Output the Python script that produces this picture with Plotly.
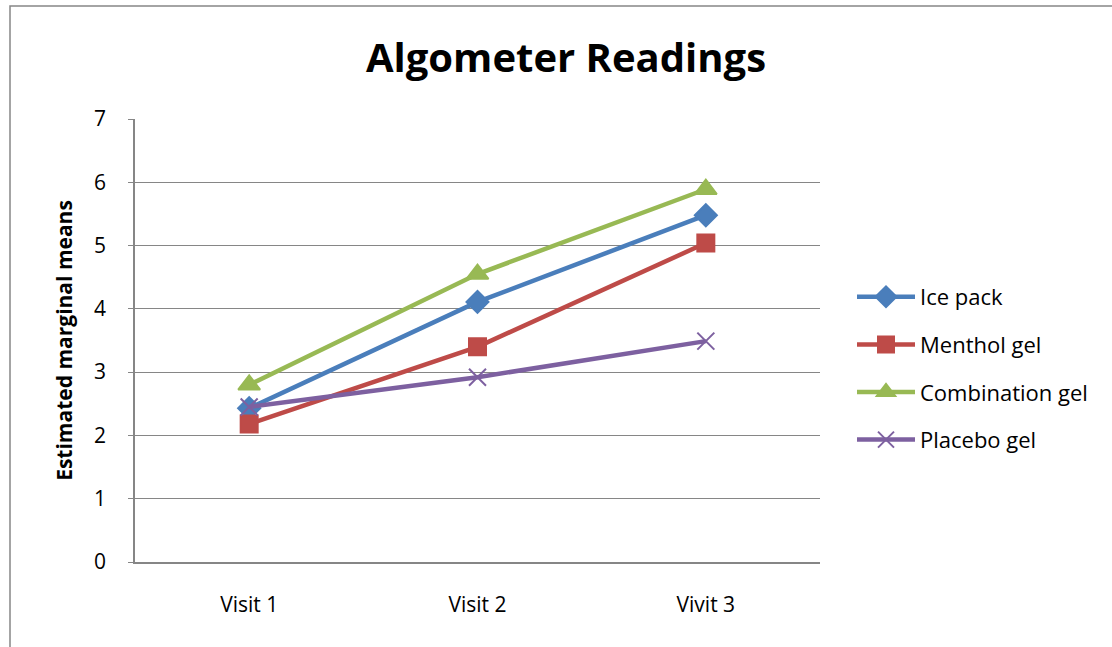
import plotly.graph_objects as go

visits = ["Visit 1", "Visit 2", "Vivit 3"]
ice_pack = [2.43, 4.11, 5.48]
menthol_gel = [2.18, 3.40, 5.04]
combination_gel = [2.80, 4.55, 5.89]
placebo_gel = [2.45, 2.92, 3.49]

W, H = 1112, 647
L, R, T, B = 135, 292, 119, 85
pw, ph = W - L - R, H - T - B

series = [
    ("Ice pack", ice_pack, "#4A7EBB", "diamond", 17),
    ("Menthol gel", menthol_gel, "#BE4B48", "square", 17),
    ("Combination gel", combination_gel, "#98B954", "triangle-up", 19),
    ("Placebo gel", placebo_gel, "#7D60A0", "x-thin-open", 17),
]

fig = go.Figure()
for i, (name, vals, color, sym, size) in enumerate(series):
    fig.add_trace(go.Scatter(
        x=visits, y=vals, name=name, mode="lines+markers",
        line=dict(color=color, width=4.5),
        marker=dict(symbol=sym, size=size, color=color,
                    line=dict(color=color, width=2)),
        legendgroup=f"g{i}",
    ))

font = "Open Sans, Liberation Sans, sans-serif"

# outer chart frame
fig.add_shape(type="rect", xref="paper", yref="paper",
              x0=(10 - L) / pw, x1=(W + 20 - L) / pw,
              y0=(H - B - (H + 20)) / ph, y1=(H - B - 6) / ph,
              line=dict(color="#868686", width=1.5), fillcolor="rgba(0,0,0,0)",
              layer="below")

fig.update_layout(
    width=W, height=H,
    margin=dict(l=L, r=R, t=T, b=B),
    paper_bgcolor="white", plot_bgcolor="white",
    font=dict(family=font, color="black"),
    title=dict(text="<b>Algometer Readings</b>", x=566 / W, xanchor="center",
               y=1 - 58 / H, yanchor="middle",
               font=dict(size=40, family=font, color="black")),
    showlegend=True,
    legend=dict(x=(852 - L) / pw, xanchor="left", y=(H - B - 276) / ph, yanchor="top",
                font=dict(size=22, family=font), traceorder="grouped",
                tracegroupgap=16, itemwidth=58, bgcolor="rgba(0,0,0,0)"),
    xaxis=dict(showgrid=False, showline=True, linecolor="#868686", linewidth=1.5,
               ticks="", tickfont=dict(size=21), ticklabelstandoff=23,
               range=[-0.5, 2.5], zeroline=False),
    yaxis=dict(range=[0, 7], dtick=1, showgrid=True, gridcolor="#868686", gridwidth=1.2,
               showline=True, linecolor="#868686", linewidth=1.5,
               ticks="outside", ticklen=5, tickcolor="#868686",
               tickfont=dict(size=21), ticklabelstandoff=18, zeroline=False,
               title=dict(text="<b>Estimated marginal means</b>", font=dict(size=21),
                          standoff=16)),
)

fig.write_html("out.html")
